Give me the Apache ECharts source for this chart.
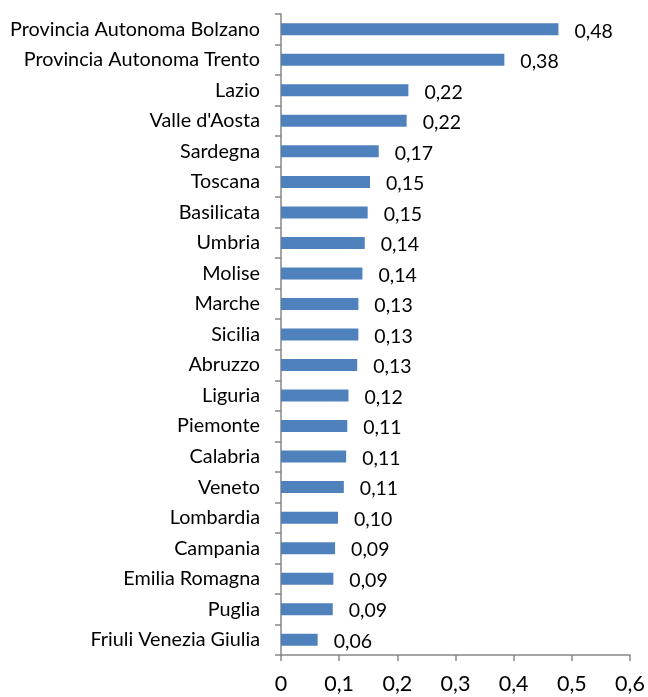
<!DOCTYPE html>
<html><head><meta charset="utf-8">
<script src="https://cdn.jsdelivr.net/npm/echarts@6/dist/echarts.min.js"></script>
<style>html,body{margin:0;padding:0;background:#fff}#c{width:648px;height:697px}</style>
</head><body><div id="c"></div>
<script>
const categories = ["Provincia Autonoma Bolzano","Provincia Autonoma Trento","Lazio","Valle d'Aosta","Sardegna","Toscana","Basilicata","Umbria","Molise","Marche","Sicilia","Abruzzo","Liguria","Piemonte","Calabria","Veneto","Lombardia","Campania","Emilia Romagna","Puglia","Friuli Venezia Giulia"];
const values = [0.477,0.384,0.219,0.216,0.168,0.153,0.149,0.144,0.140,0.133,0.133,0.131,0.116,0.114,0.112,0.108,0.098,0.093,0.090,0.089,0.063];
const xTicks = [0,0.1,0.2,0.3,0.4,0.5,0.6];
const fontFam = "Lato, 'Open Sans', sans-serif";
const chart = echarts.init(document.getElementById('c'));
chart.setOption({
  animation:false,
  grid:{left:281,right:18,top:14,bottom:42,containLabel:false},
  xAxis:{type:'value',min:0,max:0.6,interval:0.1,
    axisLine:{show:true,lineStyle:{color:'#868686',width:1.5}},
    axisTick:{show:true,length:6,lineStyle:{color:'#868686',width:1.5}},
    splitLine:{show:false},
    axisLabel:{color:'#000',fontSize:21.5,fontFamily:fontFam,margin:18,
      formatter:v=>String(Math.round(v*10)/10).replace('.',',')}},
  yAxis:{type:'category',data:categories,inverse:true,
    axisLine:{show:true,lineStyle:{color:'#868686',width:1.5}},
    axisTick:{show:true,length:6,lineStyle:{color:'#868686',width:1.5}},
    axisLabel:{color:'#000',fontSize:19.8,fontFamily:fontFam,margin:21}},
  series:[{type:'bar',data:values,barWidth:12,
    itemStyle:{color:'#4f81bd'},
    label:{show:true,position:'right',distance:16,color:'#000',fontSize:19.5,fontFamily:fontFam,offset:[0,2],
      formatter:p=>p.value.toFixed(2).replace('.',',')}}]
});
</script></body></html>
